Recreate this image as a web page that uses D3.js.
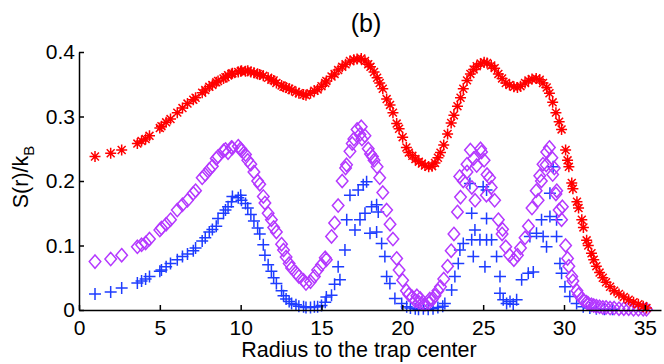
<!DOCTYPE html>
<html>
<head>
<meta charset="utf-8">
<title>(b) S(r)/kB</title>
<style>
body { margin: 0; background: white; }
#chart { display: block; }
text { font-family: "Liberation Sans", Arial, sans-serif; fill: black; }
.axis path, .axis line { stroke: black; stroke-width: 1.5px; }
.axis text { font-size: 21px; }
</style>
</head>
<body>
<svg id="chart" width="664" height="364"></svg>
<script src="https://cdn.jsdelivr.net/npm/d3@7"></script>
<script>
// tick values / labels
const xTicks = [0, 5, 10, 15, 20, 25, 30, 35];
const xTickLabels = ["0", "5", "10", "15", "20", "25", "30", "35"];
const yTicks = [0, 0.1, 0.2, 0.3, 0.4];
const yTickLabels = ["0", "0.1", "0.2", "0.3", "0.4"];

// red asterisks  [radius, S/kB]
const redSeries = [
  [0.99,.238],[1.96,.243],[2.64,.248],[3.61,.258],[3.87,.262],[4.12,.265],[4.36,.270],[5.0,.282],[5.1,.285],
  [5.39,.291],[5.66,.296],[6.08,.306],[6.4,.313],[6.71,.320],[7.07,.326],[7.21,.329],[7.62,.337],[7.81,.341],
  [8.06,.346],[8.25,.349],[8.49,.353],[8.6,.355],[8.94,.359],[9.06,.361],[9.22,.364],[9.43,.366],[9.49,.367],
  [9.85,.369],[10.0,.370],[10.05,.371],[10.3,.370],[10.44,.371],[10.63,.369],[10.82,.368],[11.05,.366],[11.18,.365],
  [11.4,.363],[11.7,.360],[11.9,.357],[12.04,.356],[12.21,.352],[12.53,.348],[12.65,.346],[12.81,.345],[13.0,.343],
  [13.15,.341],[13.42,.338],[13.6,.336],[13.89,.334],[14.04,.333],[14.32,.336],[14.56,.340],[14.76,.342],[15.0,.347],
  [15.23,.352],[15.3,.355],[15.62,.362],[15.81,.366],[16.03,.372],[16.28,.377],[16.49,.381],[16.76,.386],[17.0,.388],
  [17.2,.389],[17.46,.390],[17.69,.386],[17.89,.381],[18.03,.377],[18.25,.369],[18.44,.360],[18.6,.352],[18.79,.343],
  [19.03,.327],[19.24,.318],[19.42,.306],[19.65,.289],[19.8,.281],[20.02,.268],[20.25,.252],[20.4,.244],[20.62,.239],
  [20.81,.234],[21.02,.230],[21.21,.227],[21.4,.224],[21.63,.222],[21.84,.223],[22.02,.228],[22.2,.236],[22.36,.244],
  [22.56,.256],[22.8,.273],[23.02,.290],[23.19,.302],[23.41,.316],[23.6,.329],[23.77,.343],[24.0,.356],[24.21,.366],
  [24.41,.373],[24.6,.378],[24.84,.382],[25.06,.384],[25.24,.383],[25.5,.379],[25.71,.375],[25.94,.366],[26.17,.359],
  [26.4,.352],[26.63,.349],[26.9,.346],[27.12,.345],[27.31,.347],[27.59,.352],[27.8,.356],[28.02,.358],[28.28,.359],
  [28.5,.357],[28.7,.352],[28.93,.345],[29.1,.336],[29.3,.322],[29.5,.306],[29.7,.292],[29.85,.280],[30.1,.248],
  [30.22,.232],[30.3,.222],[30.48,.197],[30.55,.188],[30.8,.168],[30.9,.158],[31.1,.140],[31.2,.128],[31.4,.108],
  [31.5,.100],[31.7,.088],[31.84,.078],[32.0,.068],[32.2,.058],[32.4,.050],[32.6,.043],[32.85,.036],[33.1,.030],
  [33.4,.025],[33.7,.020],[34.0,.016],[34.3,.012],[34.6,.009],[34.9,.006],[35.1,.003]
];

// purple diamonds
const purpleSeries = [
  [0.99,.075],[1.96,.079],[2.64,.085],[3.61,.098],[3.87,.101],[4.12,.104],[4.36,.110],[5.0,.124],[5.1,.127],
  [5.39,.133],[5.66,.140],[6.08,.155],[6.4,.163],[6.71,.170],[7.07,.181],[7.21,.185],[7.62,.205],[7.81,.210],
  [8.06,.218],[8.25,.223],[8.49,.235],[8.6,.238],[8.94,.247],[9.06,.249],[9.22,.244],[9.43,.252],[9.49,.251],
  [9.85,.254],[10.0,.250],[10.05,.247],[10.3,.241],[10.44,.232],[10.63,.226],[10.82,.214],[11.05,.200],[11.18,.195],
  [11.4,.176],[11.5,.166],[11.7,.150],[11.9,.140],[12.04,.128],[12.21,.121],[12.53,.102],[12.65,.093],[12.81,.082],
  [13.0,.072],[13.15,.065],[13.42,.058],[13.6,.052],[13.89,.046],[14.04,.041],[14.32,.044],[14.56,.052],[14.76,.062],
  [15.0,.070],[15.23,.081],[15.3,.078],[15.62,.114],[15.81,.135],[16.03,.162],[16.28,.200],[16.49,.220],[16.55,.225],
  [16.76,.246],[16.9,.258],[17.0,.265],[17.2,.280],[17.38,.272],[17.46,.284],[17.5,.265],[17.69,.270],[17.89,.250],
  [18.03,.242],[18.15,.238],[18.25,.232],[18.44,.222],[18.6,.205],[18.79,.182],[19.03,.155],[19.24,.133],[19.42,.110],
  [19.65,.080],[19.8,.062],[20.02,.046],[20.25,.030],[20.4,.024],[20.62,.020],[20.81,.014],[20.9,.022],[21.02,.012],
  [21.1,.018],[21.21,.010],[21.4,.009],[21.63,.011],[21.7,.017],[21.84,.016],[22.02,.022],[22.2,.030],[22.36,.036],
  [22.56,.048],[22.8,.068],[23.02,.092],[23.19,.118],[23.41,.152],[23.55,.207],[23.6,.175],[23.77,.200],[24.0,.226],
  [24.0,.214],[24.21,.248],[24.3,.190],[24.41,.235],[24.5,.170],[24.6,.224],[24.84,.250],[24.9,.245],[25.06,.232],
  [25.2,.178],[25.24,.210],[25.4,.205],[25.5,.190],[25.71,.170],[25.94,.140],[26.17,.118],[26.2,.125],[26.4,.098],
  [26.63,.085],[26.9,.078],[27.12,.085],[27.31,.096],[27.59,.112],[27.8,.130],[28.02,.158],[28.28,.185],[28.4,.170],
  [28.5,.208],[28.6,.200],[28.7,.226],[28.9,.225],[28.93,.245],[29.1,.252],[29.25,.236],[29.3,.210],[29.4,.220],
  [29.5,.180],[29.55,.185],[29.7,.155],[29.85,.140],[29.9,.160],[30.1,.100],[30.22,.080],[30.3,.068],[30.48,.052],
  [30.55,.045],[30.8,.030],[30.9,.024],[31.1,.018],[31.2,.015],[31.4,.012],[31.5,.010],[31.7,.008],[31.84,.007],
  [32.0,.006],[32.2,.005],[32.4,.004],[32.6,.004],[32.85,.003],[33.1,.003],[33.4,.002],[33.7,.002],[34.0,.002],
  [34.3,.001],[34.6,.001],[34.9,.001],[35.1,.001]
];

// blue plus signs
const blueSeries = [
  [0.99,.025],[1.96,.028],[2.64,.034],[3.61,.042],[3.87,.045],[4.12,.048],[4.36,.052],[5.0,.060],[5.1,.062],
  [5.39,.067],[5.66,.072],[6.08,.078],[6.4,.083],[6.71,.087],[7.07,.092],[7.21,.096],[7.62,.107],[7.81,.112],
  [8.06,.121],[8.25,.125],[8.49,.130],[8.6,.142],[8.94,.150],[9.06,.155],[9.22,.160],[9.43,.168],[9.49,.176],
  [9.85,.174],[10.0,.178],[10.05,.170],[10.3,.165],[10.44,.158],[10.63,.148],[10.82,.138],[11.05,.127],[11.18,.118],
  [11.4,.101],[11.5,.085],[11.7,.070],[11.9,.060],[12.04,.050],[12.21,.041],[12.53,.030],[12.65,.022],[12.81,.017],
  [13.0,.013],[13.15,.010],[13.42,.008],[13.6,.006],[13.89,.005],[14.04,.004],[14.32,.004],[14.56,.005],[14.76,.005],
  [15.0,.007],[15.23,.012],[15.3,.020],[15.62,.023],[15.81,.040],[16.03,.067],[16.14,.047],[16.45,.093],[16.56,.140],
  [16.76,.178],[17.07,.124],[17.27,.186],[17.38,.140],[17.58,.194],[17.69,.150],[17.79,.199],[18.0,.119],[18.1,.160],
  [18.41,.163],[18.41,.121],[18.51,.152],[18.72,.103],[18.92,.083],[19.03,.052],[19.23,.041],[19.54,.018],[19.96,.010],
  [20.27,.005],[20.5,.003],[20.8,.002],[21.0,.001],[21.3,.002],[21.6,.001],[21.9,.002],[22.2,.004],[22.5,.006],
  [22.63,.010],[23.05,.031],[23.25,.052],[23.46,.072],[23.56,.093],[23.77,.103],[24.18,.196],[24.29,.150],[24.49,.124],
  [24.29,.109],[24.8,.109],[25.0,.191],[25.21,.186],[25.21,.142],[25.21,.109],[25.52,.109],[24.39,.083],[25.11,.067],
  [25.83,.083],[26.04,.052],[26.04,.026],[26.24,.016],[26.45,.010],[26.66,.013],[26.86,.009],[27.07,.016],[27.38,.047],
  [27.79,.057],[28.1,.059],[27.89,.114],[28.3,.119],[28.71,.114],[28.92,.098],[28.61,.140],[29.13,.145],[29.54,.140],
  [29.54,.114],[29.13,.181],[29.33,.222],[29.75,.072],[29.85,.057],[30.06,.036],[30.36,.021],[30.78,.010],[31.19,.005],
  [31.6,.003],[32.0,.002],[32.5,.001],[33.0,.001]
];

const svg = d3.select('#chart');

const x = d3.scaleLinear().domain([0, 36]).range([79, 661]);
const y = d3.scaleLinear().domain([0, 0.4]).range([310, 52]);

// MATLAB style markers, size = (2r)^2
const diamond = {
    draw(ctx, size){
        const w = Math.sqrt(size) / 2, h = w * 1.15;
        ctx.moveTo(0, -h); ctx.lineTo(w, 0); ctx.lineTo(0, h); ctx.lineTo(-w, 0); ctx.closePath();
    }
};
const plus = {
    draw(ctx, size){
        const r = Math.sqrt(size) / 2;
        ctx.moveTo(-r, 0); ctx.lineTo(r, 0); ctx.moveTo(0, -r); ctx.lineTo(0, r);
    }
};
const asterisk = {
    draw(ctx, size){
        const r = Math.sqrt(size) / 2, d = r * 0.72;
        ctx.moveTo(-r, 0); ctx.lineTo(r, 0); ctx.moveTo(0, -r); ctx.lineTo(0, r);
        ctx.moveTo(-d, -d); ctx.lineTo(d, d); ctx.moveTo(-d, d); ctx.lineTo(d, -d);
    }
};

const series = [
    {data: blueSeries, color: '#1e3cff', type: plus, size: 12},
    {data: purpleSeries, color: '#b438ff', type: diamond, size: 11.5},
    {data: redSeries, color: '#ff0000', type: asterisk, size: 11}
];

for (const s of series){
    svg.append('g')
        .selectAll('path')
        .data(s.data)
        .join('path')
            .attr('transform', d => `translate(${x(d[0])},${y(d[1])})`)
            .attr('d', d3.symbol().type(s.type).size(s.size * s.size))
            .attr('fill', 'none')
            .attr('stroke', s.color)
            .attr('stroke-width', 1.5);
}

// axes, ticks pointing inward
svg.append('g')
    .attr('class', 'axis')
    .attr('transform', `translate(0,${y(0)})`)
    .call(d3.axisBottom(x)
        .tickValues(xTicks)
        .tickFormat((d, i) => xTickLabels[i])
        .tickSizeInner(-5)
        .tickSizeOuter(0)
        .tickPadding(10))
    .call(g => g.selectAll('text').attr('fill', 'black'));

svg.append('g')
    .attr('class', 'axis')
    .attr('transform', `translate(${x(0)},0)`)
    .call(d3.axisLeft(y)
        .tickValues(yTicks)
        .tickFormat((d, i) => yTickLabels[i])
        .tickSizeInner(-5)
        .tickSizeOuter(0)
        .tickPadding(4))
    .call(g => g.selectAll('text').attr('fill', 'black'));

// title and labels
svg.append('text')
    .attr('x', 366)
    .attr('y', 32)
    .attr('text-anchor', 'middle')
    .style('font-size', '25px')
    .text('(b)');

svg.append('text')
    .attr('x', 359)
    .attr('y', 357)
    .attr('text-anchor', 'middle')
    .style('font-size', '21.5px')
    .text('Radius to the trap center');

const ylab = svg.append('text')
    .attr('transform', 'translate(28,177) rotate(-90)')
    .attr('text-anchor', 'middle')
    .style('font-size', '21.5px');
ylab.append('tspan').text('S(r)/k');
ylab.append('tspan').attr('dy', 6).style('font-size', '15px').text('B');
</script>
</body>
</html>
